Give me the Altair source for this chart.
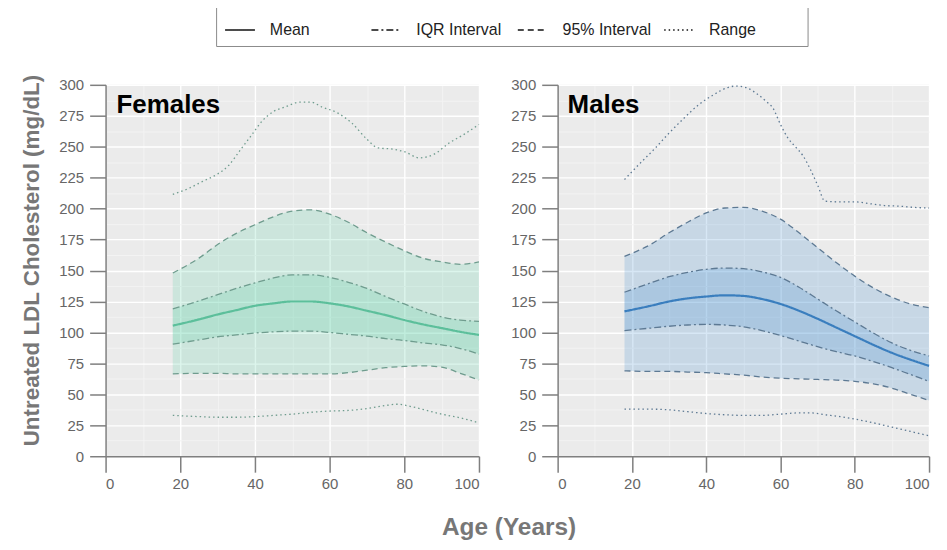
import altair as alt
import pandas as pd

# ---------------- data ----------------
ages = [18, 25, 30, 35, 40, 45, 50, 55, 60, 65, 70, 75, 80, 85, 90, 95, 100]

f_mean   = [105.5, 110.5, 114.5, 118, 121.5, 123.5, 125, 125, 123.5, 121, 117.5, 114, 110, 106.5, 103.5, 100.5, 98]
f_iqr_hi = [119, 125.5, 130.5, 135.5, 140, 144, 146.5, 146.5, 144.5, 140.5, 135.5, 129, 123, 117, 112.5, 110, 109]
f_iqr_lo = [90.5, 94, 96.5, 98, 99.5, 100.5, 101, 101, 100, 98.5, 97, 95, 93.5, 91.5, 90, 87, 82.5]
f_p95_hi = [148, 160, 171, 180, 187, 193.5, 198, 199, 195.5, 189, 180.5, 173, 166, 160, 157, 155, 157]
f_p95_lo = [66.5, 67, 67, 66.5, 66.5, 66.5, 66.5, 66.5, 66.5, 67.5, 69.5, 71.5, 72.5, 73, 72, 67, 61.5]
f_rng_hi_age = [18, 22, 26, 30, 33, 36, 39, 42, 45, 48, 52, 55, 58, 62, 66, 70, 73, 77, 80, 84, 88, 92, 96, 100]
f_rng_hi     = [211.5, 216, 222, 228, 235, 247, 259, 271, 278.5, 282, 286, 286, 282, 277.5, 269, 256, 249, 248, 246, 241, 244, 253, 260, 268]
f_rng_lo_age = [18, 25, 30, 35, 40, 45, 50, 55, 60, 65, 70, 75, 78, 82, 86, 90, 95, 100]
f_rng_lo     = [33, 32, 31.5, 31.5, 32, 33, 34, 35.5, 36.5, 37, 38.5, 41, 42, 40, 37, 34, 31, 27]

m_mean   = [117, 121.5, 125, 127.5, 129, 130, 129.5, 127, 123, 117.5, 111, 104, 97, 90, 83.5, 78, 73]
m_iqr_hi = [132.5, 140, 145, 148.5, 151, 152, 151.5, 149, 144.5, 136.5, 127, 117.5, 108.5, 99.5, 91.5, 85.5, 81]
m_iqr_lo = [101.5, 103.5, 105, 106, 106.5, 106, 104.5, 101.5, 97.5, 93, 88.5, 84.5, 81, 76.5, 71.5, 66, 60.5]
m_p95_hi = [161.5, 171, 180.5, 189, 196.5, 200.5, 201, 198, 191.5, 180.5, 168.5, 156.5, 145.5, 136, 128.5, 123, 120]
m_p95_lo = [69, 68.5, 68.5, 68, 67.5, 66.5, 65.5, 64, 63, 62.5, 62, 61.5, 60.5, 58.5, 55, 50, 45]
m_rng_hi_age = [18, 22, 26, 30, 34, 38, 42, 46, 48, 51, 54, 56, 58, 60, 62, 64, 66, 68, 70, 72, 76, 80, 84, 88, 92, 96, 100]
m_rng_hi     = [223.5, 236, 248, 261, 273, 284, 292, 298, 299, 297.5, 292, 287, 281, 268, 257, 250, 243, 232, 219, 206, 205.5, 205.5, 204, 202.5, 202, 201, 200.5]
m_rng_lo_age = [18, 25, 30, 35, 40, 45, 50, 55, 60, 65, 68, 72, 76, 80, 85, 90, 95, 100]
m_rng_lo     = [38, 38, 37.5, 36, 34.5, 33.5, 33, 33, 34, 35, 35, 33.5, 32, 30, 27, 23.5, 20, 16.5]

panel_labels = ["Females", "Males"]
types = ["Mean", "IQR Interval", "95% Interval", "Range"]
dashes = [[1, 0], [7, 3, 2, 3], [6, 4], [1.5, 3]]

y_ticks = [i * 12.5 for i in range(25)]
x_ticks = list(range(0, 101, 10))

FONT = "Liberation Sans"


def build_frames(mean, iqr_lo, iqr_hi, p95_lo, p95_hi, rhi_age, rhi, rlo_age, rlo):
    band = pd.DataFrame({"age": ages, "iqr_lo": iqr_lo, "iqr_hi": iqr_hi,
                         "p95_lo": p95_lo, "p95_hi": p95_hi})
    rows = []
    for a, v in zip(ages, mean):
        rows.append({"age": a, "value": v, "type": "Mean", "bound": "mean"})
    for a, lo, hi in zip(ages, iqr_lo, iqr_hi):
        rows.append({"age": a, "value": lo, "type": "IQR Interval", "bound": "iqr_lo"})
        rows.append({"age": a, "value": hi, "type": "IQR Interval", "bound": "iqr_hi"})
    for a, lo, hi in zip(ages, p95_lo, p95_hi):
        rows.append({"age": a, "value": lo, "type": "95% Interval", "bound": "p95_lo"})
        rows.append({"age": a, "value": hi, "type": "95% Interval", "bound": "p95_hi"})
    for a, v in zip(rhi_age, rhi):
        rows.append({"age": a, "value": v, "type": "Range", "bound": "rng_hi"})
    for a, v in zip(rlo_age, rlo):
        rows.append({"age": a, "value": v, "type": "Range", "bound": "rng_lo"})
    return band, pd.DataFrame(rows)


def x_axis():
    return alt.Axis(
        values=x_ticks,
        labelExpr="datum.value % 20 === 0 ? datum.label : ''",
        gridColor={"condition": {"test": "datum.value % 20 === 0", "value": "#ffffff"}, "value": "#f3f3f3"},
        gridWidth={"condition": {"test": "datum.value % 20 === 0", "value": 1.4}, "value": 1.0},
        tickColor={"condition": {"test": "datum.value % 20 === 0", "value": "#7f7f7f"}, "value": "transparent"},
        title=None,
    )


def y_axis(title):
    kw = dict(
        values=y_ticks,
        labelExpr="datum.value % 25 === 0 ? datum.label : ''",
        gridColor={"condition": {"test": "datum.value % 25 === 0", "value": "#ffffff"}, "value": "#f3f3f3"},
        gridWidth={"condition": {"test": "datum.value % 25 === 0", "value": 1.4}, "value": 1.0},
        tickColor={"condition": {"test": "datum.value % 25 === 0", "value": "#7f7f7f"}, "value": "transparent"},
    )
    if title:
        kw.update(title=title, titleFontSize=22.5, titleFontWeight="bold", titleColor="#777777",
                  titlePadding=15, titleFont=FONT, titleY=176)
    else:
        kw.update(title=None)
    return alt.Axis(**kw)


def panel(label, band, lines, base, mean_col, line_col, width, ytitle, label_x):
    xs = alt.Scale(domain=[0, 100], nice=False, zero=False)
    ys = alt.Scale(domain=[0, 300], nice=False)
    xa = x_axis()
    ya = y_axis(ytitle)
    dash = alt.StrokeDash("type:N", scale=alt.Scale(domain=types, range=dashes),
                          legend=alt.Legend(title="\u2800\u2800\u2800"))

    a95 = alt.Chart(band).mark_area(interpolate="monotone", color=base, opacity=0.22).encode(
        x=alt.X("age:Q", scale=xs, axis=xa), y=alt.Y("p95_lo:Q", scale=ys, axis=ya), y2="p95_hi:Q")
    aiqr = alt.Chart(band).mark_area(interpolate="monotone", color=base, opacity=0.22).encode(
        x=alt.X("age:Q", scale=xs, axis=xa), y=alt.Y("iqr_lo:Q", scale=ys, axis=ya), y2="iqr_hi:Q")
    other = alt.Chart(lines).transform_filter("datum.type !== 'Mean'").mark_line(
        interpolate="monotone", color=line_col, strokeWidth=1.3).encode(
        x=alt.X("age:Q", scale=xs, axis=xa), y=alt.Y("value:Q", scale=ys, axis=ya),
        strokeDash=dash, detail="bound:N")
    meanl = alt.Chart(lines).transform_filter("datum.type === 'Mean'").mark_line(
        interpolate="monotone", color=mean_col, strokeWidth=2.2).encode(
        x=alt.X("age:Q", scale=xs, axis=xa), y=alt.Y("value:Q", scale=ys, axis=ya),
        strokeDash=dash, detail="bound:N")
    txt = alt.Chart(pd.DataFrame({"label": [label]})).mark_text(
        align="left", baseline="alphabetic", fontSize=26, fontWeight="bold", font=FONT, color="#000000"
    ).encode(x=alt.value(label_x), y=alt.value(28), text="label:N")
    return alt.layer(a95, aiqr, other, meanl, txt).properties(width=width, height=373)


fb, fl = build_frames(f_mean, f_iqr_lo, f_iqr_hi, f_p95_lo, f_p95_hi, f_rng_hi_age, f_rng_hi, f_rng_lo_age, f_rng_lo)
mb, ml = build_frames(m_mean, m_iqr_lo, m_iqr_hi, m_p95_lo, m_p95_hi, m_rng_hi_age, m_rng_hi, m_rng_lo_age, m_rng_lo)

left = panel(panel_labels[0], fb, fl, "#5fd3a8", "#5cbf9b", "#6f9c8e", 375, "Untreated LDL Cholesterol (mg/dL)", 11)
right = panel(panel_labels[1], mb, ml, "#4a90d0", "#3a7ebe", "#5d7993", 373, None, 10)

chart = alt.hconcat(left, right, spacing=26).resolve_scale(strokeDash="shared").resolve_legend(
    strokeDash="shared"
).properties(
    title=alt.TitleParams("Age (Years)", orient="bottom", anchor="middle", fontSize=24.5, fontWeight="bold",
                          color="#777777", font=FONT, offset=25, dx=32),
    padding={"left": 12, "top": -4, "right": 5, "bottom": 5},
).configure_view(fill="#ebebeb", stroke=None).configure_axis(
    domainColor="#7f7f7f", domainWidth=1.5, tickSize=16, tickWidth=1.5,
    labelColor="#666666", labelFontSize=15, labelFont=FONT,
).configure_axisY(labelPadding=6).configure_axisX(labelPadding=4).configure_legend(
    orient="none", legendX=111, legendY=-79, direction="horizontal", columns=4, gridAlign="all",
    symbolType="stroke", symbolStrokeColor="#111111", symbolStrokeWidth=1.5, symbolSize=900,
    labelFontSize=16, labelFont=FONT, labelColor="#222222", labelOffset=14, columnPadding=10,
    padding=8, strokeColor="#8a8a8a", fillColor="#ffffff",
    titleOrient="right", titleFontSize=16, titlePadding=8,
)

chart.save("out.html", embed_options={"renderer": "svg", "actions": False})
